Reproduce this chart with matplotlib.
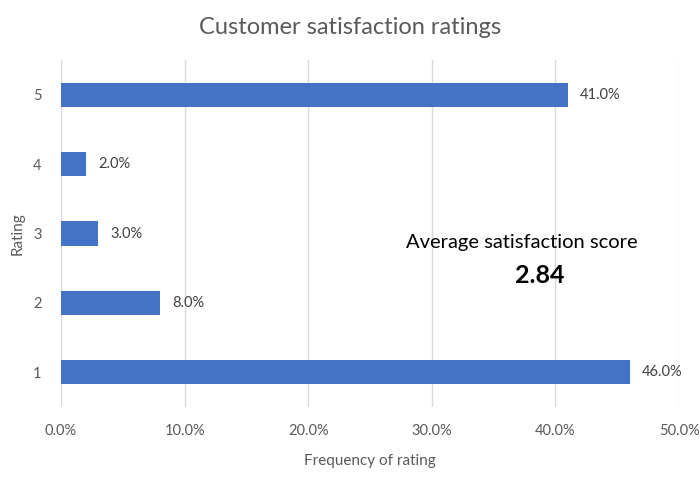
import matplotlib.pyplot as plt
from matplotlib.patches import Rectangle
from matplotlib.ticker import PercentFormatter

ratings = ["1", "2", "3", "4", "5"]
freq = [46.0, 8.0, 3.0, 2.0, 41.0]
avg_score = 2.84

plt.rcParams["font.family"] = ["Lato", "DejaVu Sans"]
grey = "#595959"

fig = plt.figure(figsize=(7, 4.82), dpi=100)
ax = fig.add_axes([0.0871, 0.1556, 0.8829, 0.7199])

pos = range(len(ratings))
ax.barh(pos, freq, height=0.35, color="#4472C4", zorder=2)
for p, v in zip(pos, freq):
    ax.text(v + 1.0, p, "{:.1f}%".format(v), va="center", ha="left",
            fontsize=10.5, color="#404040")

ax.set_xlim(0, 50)
ax.set_ylim(-0.5, 4.5)
ax.set_yticks(list(pos))
ax.set_yticklabels(ratings)
ax.set_xticks([0, 10, 20, 30, 40, 50])
ax.xaxis.set_major_formatter(PercentFormatter(decimals=1))
ax.grid(axis="x", color="#d9d9d9", lw=1, zorder=0)
for s in ax.spines.values():
    s.set_visible(False)
ax.tick_params(length=0, labelsize=10.5, colors=grey, pad=12)
ax.tick_params(axis="y", pad=14)

ax.set_xlabel("Frequency of rating", fontsize=11, color=grey, labelpad=12)
ax.set_ylabel("Rating", fontsize=11, color=grey, labelpad=6)
fig.suptitle("Customer satisfaction ratings", fontsize=17, color=grey, y=0.965)

# white box behind the score so the gridlines break there
ax.add_patch(Rectangle((0.536, 0.323), 0.425, 0.21, transform=ax.transAxes,
                       facecolor="white", edgecolor="none", zorder=1))
ax.text(0.746, 0.473, "Average satisfaction score", transform=ax.transAxes,
        ha="center", va="center", fontsize=14.5, color="black", zorder=3)
ax.text(0.775, 0.378, "{:.2f}".format(avg_score), transform=ax.transAxes,
        ha="center", va="center", fontsize=18, fontweight="bold",
        color="black", zorder=4)

plt.savefig("out.png", dpi=100)
